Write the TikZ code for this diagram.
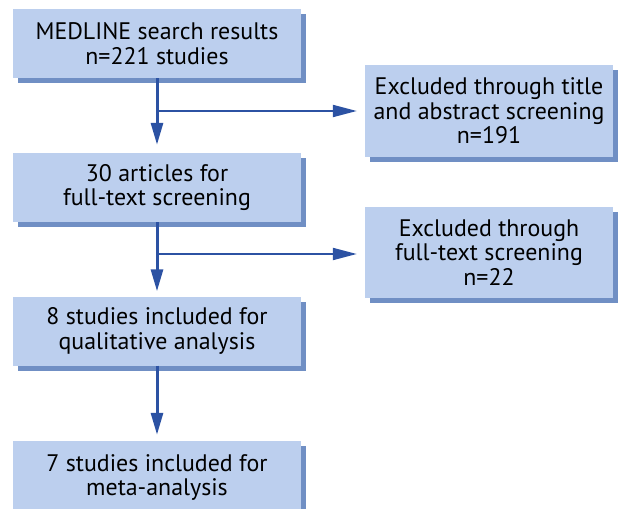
\documentclass[tikz,border=0pt]{standalone}
\usepackage{fontspec}
\setmainfont{PT Sans}
\usetikzlibrary{arrows.meta,shadows}
\definecolor{boxfill}{RGB}{188,207,238}
\definecolor{boxshadow}{RGB}{112,143,196}
\definecolor{arrowcol}{RGB}{44,82,163}
\tikzset{
  box/.style={fill=boxfill, draw=none, align=center, inner sep=0pt,
    font=\fontsize{24}{24.5}\selectfont,
    general shadow={shadow xshift=5bp, shadow yshift=-5bp, fill=boxshadow}},
  leftbox/.style={box, minimum width=288bp, minimum height=69bp},
  rightbox/.style={box, minimum width=248bp, minimum height=92bp},
  down/.style={draw=arrowcol, line width=3bp, -{Triangle[length=22bp,width=12bp]}},
  side/.style={draw=arrowcol, line width=2bp, -{Triangle[length=24bp,width=12bp]}}
}
\begin{document}
\begin{tikzpicture}[x=1bp,y=-1bp]
\useasboundingbox (0,0) rectangle (618,509);
\clip (0,0) rectangle (618,509);
\node[leftbox] (a) at (157,43.5) {MEDLINE search results\\n=221 studies};
\node[leftbox] (b) at (157,187.5) {30 articles for\\full-text screening};
\node[leftbox] (c) at (157,331) {8 studies included for\\qualitative analysis};
\node[leftbox, minimum height=73bp] (d) at (157,477.5) {7 studies included for\\meta-analysis};
\node[rightbox] (e) at (489,111) {Excluded through title\\and abstract screening\\n=191};
\node[rightbox, minimum height=91bp] (f) at (489,252.5) {Excluded through\\full-text screening\\n=22};
\coordinate (a1) at (157,111);
\coordinate (b1) at (157,254);
\draw[down] (a.south) -- ([yshift=8bp]b.north);
\draw[down] (b.south) -- ([yshift=5bp]c.north);
\draw[down] (c.south) -- ([yshift=6bp]d.north);
\draw[side] (a1) -- ([xshift=-8bp]e.west |- a1);
\draw[side] (b1) -- ([xshift=-8bp]f.west |- b1);
\end{tikzpicture}
\end{document}
